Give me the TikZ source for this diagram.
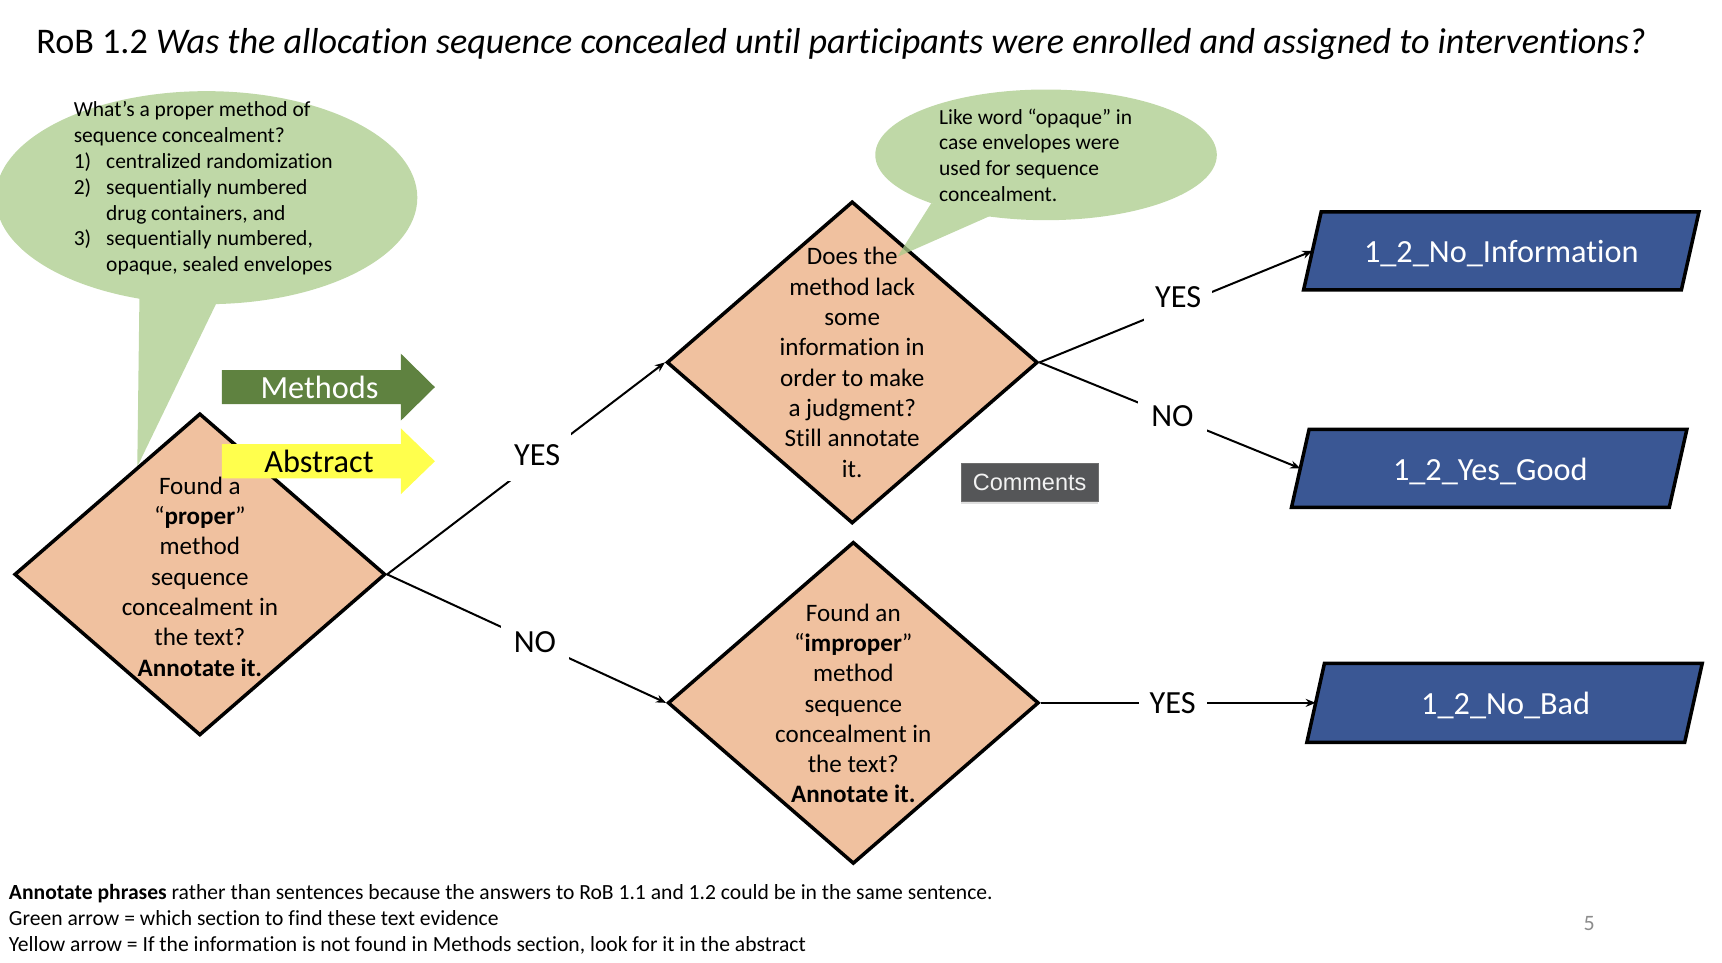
\documentclass[tikz,border=0pt]{standalone}
\usepackage{fontspec}
\setmainfont{Carlito}[Ligatures=NoCommon]
\newfontfamily\uifont{Liberation Sans}
\usetikzlibrary{shapes.geometric,arrows.meta,shadows}
\definecolor{diafill}{HTML}{F0C19F}
\definecolor{bubfill}{HTML}{BFD8A7}
\definecolor{bubfillT}{RGB}{170,203,138}
\definecolor{methgreen}{HTML}{5F8240}
\definecolor{abstyellow}{HTML}{FFFF4D}
\definecolor{boxblue}{HTML}{3A5794}
\definecolor{comfill}{HTML}{555658}
\definecolor{comborder}{HTML}{6E6E6E}
\definecolor{pagegray}{HTML}{8C8C8C}
\tikzset{
  dia/.style={shape=diamond, draw=black, line width=3.5pt, fill=diafill,
    minimum width=371pt, minimum height=322pt, inner sep=0pt},
  diatext/.style={align=center, font=\fontsize{25.1}{30.3}\selectfont, inner sep=0pt},
  conn/.style={line width=2pt, -{Stealth[length=10pt,width=8pt]}},
  lab/.style={fill=white, inner sep=0pt, minimum width=68pt, minimum height=52pt,
    font=\fontsize{32.3}{39}\selectfont},
  outbox/.style={fill=boxblue, draw=black, line width=3.5pt, line join=miter},
  outtext/.style={text=white, inner sep=0pt, font=\fontsize{32.3}{39}\selectfont},
  arrowtext/.style={inner sep=0pt, font=\fontsize{32.3}{39}\selectfont},
  bubtext/.style={anchor=base west, inner sep=0pt},
}
\begin{document}
\begin{tikzpicture}[x=1.0982pt,y=-1.0982pt]
\useasboundingbox (0,0) rectangle (1568,876);

% title
\node[anchor=base west, inner sep=0pt, font=\fontsize{36.1}{43}\selectfont] (title) at (33,49)
  {RoB 1.2 \textit{Was the allocation sequence concealed until participants were enrolled and assigned to interventions?}};

% left speech bubble
\fill[bubfill] (188,180) ellipse [x radius=192, y radius=97];
\fill[bubfill] (127,268) -- (125,425) -- (199,272) -- cycle;
\node[bubtext] (lbtext) at (67,106) {\parbox[t]{330pt}{\fontsize{21.5}{25.9}\selectfont\raggedright
  What’s a proper method of\\
  sequence concealment?\\
  \makebox[32.4pt][l]{1)}centralized randomization\\
  \makebox[32.4pt][l]{2)}sequentially numbered\\
  \hspace*{32.4pt}drug containers, and\\
  \makebox[32.4pt][l]{3)}sequentially numbered,\\
  \hspace*{32.4pt}opaque, sealed envelopes}};

% diamonds
\node[dia] (d1) at (182,523) {};
\node[dia] (d2) at (776,330) {};
\node[dia] (d3) at (777,640) {};

% section arrows
\fill[methgreen] (202,337) -- (365,337) -- (365,322) -- (396,352.5) -- (365,383) -- (365,368) -- (202,368) -- cycle;
\node[arrowtext, text=white] (methods) at (291,352.5) {Methods};
\fill[abstyellow] (202,404.5) -- (365,404.5) -- (365,390) -- (396,420) -- (365,450) -- (365,435.5) -- (202,435.5) -- cycle;
\node[arrowtext] (abstract) at (290.5,420) {Abstract};

% right speech bubble (semi transparent over the diamond)
\begin{scope}[transparency group, opacity=0.75]
  \fill[bubfillT] (952.5,141) ellipse [x radius=155.5, y radius=59.5];
  \fill[bubfillT] (848,185) -- (817,234) -- (903,196) -- cycle;
\end{scope}
\node[bubtext] (rbtext) at (855,113) {\parbox[t]{300pt}{\fontsize{21.5}{25.9}\selectfont\raggedright
  Like word “opaque” in\\
  case envelopes were\\
  used for sequence\\
  concealment.}};

% diamond texts
\node[diatext] (t1) at (182,525) {Found a\\“\textbf{proper}”\\method\\sequence\\concealment in\\the text?\\\textbf{Annotate it.}};
\node[diatext] (t2) at (776,330) {Does the\\method lack\\some\\information in\\order to make\\a judgment?\\Still annotate\\it.};
\node[diatext] (t3) at (777,640.5) {Found an\\“\textbf{improper}”\\method\\sequence\\concealment in\\the text?\\\textbf{Annotate it.}};

% output boxes
\draw[outbox] (1203,193) -- (1547,193) -- (1531,264) -- (1187,264) -- cycle;
\coordinate (b1) at (1195,228.5);
\node[outtext] (o1) at (1367,230.5) {1\_2\_No\_Information};
\draw[outbox] (1192,391) -- (1536,391) -- (1520,462) -- (1176,462) -- cycle;
\coordinate (b2) at (1184,426.5);
\node[outtext] (o2) at (1357,429) {1\_2\_Yes\_Good};
\draw[outbox] (1206,604) -- (1550,604) -- (1534,676) -- (1190,676) -- cycle;
\coordinate (b3) at (1198,640);
\node[outtext] (o3) at (1371,642) {1\_2\_No\_Bad};

% connectors
\draw[conn] (d1.east) -- node[lab, pos=0.54, yshift=5pt] (l1) {YES} (d2.west);
\draw[conn] (d1.east) -- node[lab, pos=0.53] (l2) {NO} (d3.west);
\draw[conn] (d2.east) -- node[lab, pos=0.508, yshift=9pt] (l3) {YES} (b1);
\draw[conn] (d2.east) -- node[lab, pos=0.51] (l4) {NO} (b2);
\draw[conn] (d3.east) -- node[lab, pos=0.48] (l5) {YES} (b3);

% comments badge
\node[fill=comfill, draw=comborder, line width=1pt, minimum width=137pt, minimum height=38.4pt,
  inner sep=0pt, text=white!95!black, font=\uifont\fontsize{23.5}{28}\selectfont,
  drop shadow={opacity=0.25, shadow xshift=0pt, shadow yshift=-2pt}] (comments) at (937.5,439.5) {Comments};

% footer
\node[anchor=base west, inner sep=0pt] (foot) at (8,819) {\parbox[t]{1400pt}{\fontsize{21.6}{25.8}\selectfont\raggedright
  \textbf{Annotate phrases} rather than sentences because the answers to RoB 1.1 and 1.2 could be in the same sentence.\\
  Green arrow = which section to find these text evidence\\
  Yellow arrow = If the information is not found in Methods section, look for it in the abstract}};
\node[text=pagegray, inner sep=0pt, font=\fontsize{22}{26}\selectfont] (pnum) at (1447,841) {5};
\end{tikzpicture}
\end{document}
